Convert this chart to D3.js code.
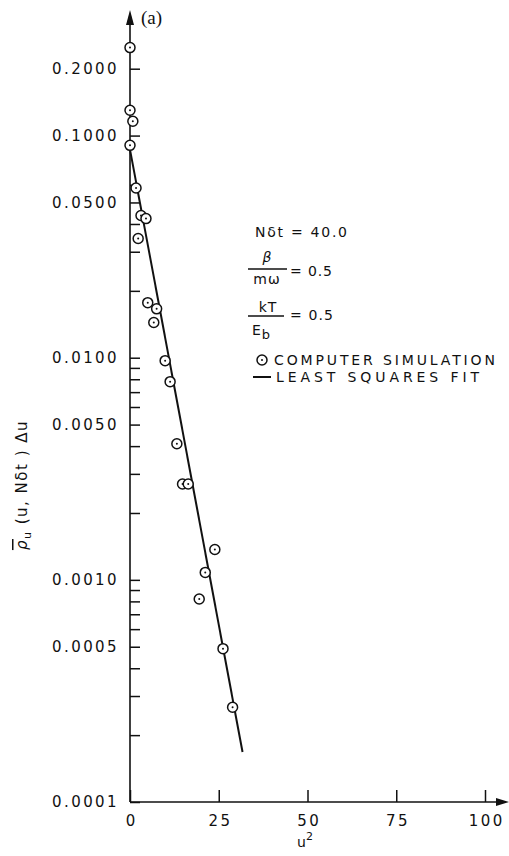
<!DOCTYPE html>
<html>
<head>
<meta charset="utf-8">
<script src="https://cdn.jsdelivr.net/npm/d3@7/dist/d3.min.js"></script>
<style>
  html, body { margin: 0; padding: 0; background: #fff; }
  svg { display: block; }
  .lbl { font-family: "DejaVu Sans", sans-serif; font-size: 14px; fill: #111; letter-spacing: 3px; }
  .tk { font-family: "DejaVu Sans", sans-serif; font-size: 15px; fill: #111; letter-spacing: 2.4px; }
</style>
</head>
<body>
<svg id="chart" width="509" height="856"></svg>
<script>
// Simulated distribution samples: squared displacement u^2 and normalised density
const u2 = [0, 0, 0.8, 0, 1.7, 3.1, 4.5, 2.3, 5.0, 7.5, 6.7, 9.9, 11.3, 13.2, 14.8, 16.4, 23.9, 21.2, 19.5, 26.2, 28.9];
const density = [0.249, 0.130, 0.116, 0.0904, 0.0581, 0.0437, 0.0423, 0.0344, 0.0177, 0.0166, 0.0144,
                 0.0097, 0.0078, 0.0041, 0.0027, 0.0027, 0.00137, 0.00108, 0.00082, 0.00049, 0.000267];

// Least squares fit (straight line on log axis)
const fitU2 = [0, 31.7];
const fitDensity = [0.0865, 0.000168];

// Axis ticks
const xTicks = [0, 25, 50, 75, 100];
const xTickLabels = ["0", "25", "50", "75", "100"];
const yMajorTicks = [0.2, 0.1, 0.05, 0.01, 0.005, 0.001, 0.0005, 0.0001];
const yTickLabels = ["0.2000", "0.1000", "0.0500", "0.0100", "0.0050", "0.0010", "0.0005", "0.0001"];
const yMinorTicks = [0.06, 0.04, 0.03, 0.02,
                     0.009, 0.008, 0.007, 0.006, 0.004, 0.003, 0.002,
                     0.0009, 0.0008, 0.0007, 0.0006, 0.0004, 0.0003, 0.0002];

const svg = d3.select("#chart");
const ink = "#111";

const x = d3.scaleLinear().domain([0, 100]).range([130, 485]);
const y = d3.scaleLog().domain([0.0001, 0.36]).range([802, 12]);

// y axis: ticks point into the plot
const labelOf = new Map(yMajorTicks.map((v, i) => [v, yTickLabels[i]]));
const yAxis = d3.axisLeft(y)
  .tickValues(yMajorTicks.concat(yMinorTicks))
  .tickSizeInner(-10).tickSizeOuter(0).tickPadding(11)
  .tickFormat(d => labelOf.get(d) || "");
const gy = svg.append("g").attr("transform", `translate(${x(0)},0)`).call(yAxis);
gy.select(".domain").remove();
gy.selectAll(".tick line").attr("stroke", ink).attr("stroke-width", 1.5);
gy.selectAll(".tick text").attr("class", "tk").attr("font-family", null).attr("font-size", null);

// x axis
const xAxis = d3.axisBottom(x)
  .tickValues(xTicks)
  .tickSizeInner(-12).tickSizeOuter(0).tickPadding(13)
  .tickFormat((d, i) => xTickLabels[i]);
const gx = svg.append("g").attr("transform", `translate(0,${y(0.0001)})`).call(xAxis);
gx.select(".domain").remove();
gx.selectAll(".tick line").attr("stroke", ink).attr("stroke-width", 1.5);
gx.selectAll(".tick text").attr("class", "tk").attr("font-family", null).attr("font-size", null).attr("dx", 1.2);

// axis lines with arrowheads
const x0 = x(0), yBot = y(0.0001), yTop = y(0.36), xEnd = 509;
svg.append("line").attr("x1", x0).attr("y1", yBot).attr("x2", x0).attr("y2", yTop + 6)
  .attr("stroke", ink).attr("stroke-width", 1.6);
svg.append("path").attr("d", `M${x0},${yTop - 2} L${x0 - 4},${yTop + 13} L${x0 + 4},${yTop + 13} Z`).attr("fill", ink);
svg.append("line").attr("x1", x0).attr("y1", yBot).attr("x2", xEnd - 6).attr("y2", yBot)
  .attr("stroke", ink).attr("stroke-width", 1.6);
svg.append("path").attr("d", `M${xEnd},${yBot} L${xEnd - 13},${yBot - 4} L${xEnd - 13},${yBot + 4} Z`).attr("fill", ink);

// fitted line
const line = d3.line().x(d => x(d[0])).y(d => y(d[1]));
svg.append("path")
  .datum(fitU2.map((v, i) => [v, fitDensity[i]]))
  .attr("d", line).attr("fill", "none").attr("stroke", ink).attr("stroke-width", 2);

// simulation points: circle with centre dot
const pts = svg.append("g").selectAll("g").data(u2.map((v, i) => [v, density[i]])).join("g")
  .attr("transform", d => `translate(${x(d[0])},${y(d[1])})`);
pts.append("circle").attr("r", 5).attr("fill", "#fff").attr("stroke", ink).attr("stroke-width", 1.5);
pts.append("circle").attr("r", 1).attr("fill", ink);

// panel tag
svg.append("text").attr("x", 141).attr("y", 24)
  .attr("font-family", "Liberation Serif, serif").attr("font-size", 19).attr("fill", ink).text("(a)");

// axis titles
svg.append("text").attr("class", "lbl").attr("x", 305).attr("y", 847).attr("text-anchor", "middle")
  .style("letter-spacing", "0px").attr("font-size", 15)
  .call(t => { t.append("tspan").text("u"); t.append("tspan").attr("dy", -7).attr("font-size", 11).text("2"); });

const yl = svg.append("text").attr("class", "lbl")
  .attr("transform", "translate(27,485) rotate(-90)").attr("text-anchor", "middle")
  .style("letter-spacing", "1.5px").style("font-size", "15px");
yl.append("tspan").attr("font-style", "italic").attr("text-decoration", "overline").text("\u03C1");
yl.append("tspan").attr("dy", 4).attr("font-size", 11).text("u");
yl.append("tspan").attr("dy", -4).text(" (u, N\u03B4t ) \u0394u");

// parameter block
const lg = svg.append("g");
lg.append("text").attr("class", "lbl").attr("x", 255).attr("y", 237).attr("textLength", 95).text("N\u03B4t = 40.0");

lg.append("text").attr("class", "lbl").attr("x", 267).attr("y", 262).attr("text-anchor", "middle")
  .style("letter-spacing", "0px").attr("font-style", "italic").attr("font-size", 17).text("\u03B2");
lg.append("line").attr("x1", 248).attr("x2", 287).attr("y1", 269).attr("y2", 269).attr("stroke", ink).attr("stroke-width", 1.3);
lg.append("text").attr("class", "lbl").attr("x", 267).attr("y", 284).attr("text-anchor", "middle")
  .style("letter-spacing", "1px").text("m\u03C9");
lg.append("text").attr("class", "lbl").attr("x", 290).attr("y", 276).attr("textLength", 45).text("= 0.5");

lg.append("text").attr("class", "lbl").attr("x", 268).attr("y", 312).attr("text-anchor", "middle")
  .style("letter-spacing", "1px").text("kT");
lg.append("line").attr("x1", 248).attr("x2", 284).attr("y1", 316).attr("y2", 316).attr("stroke", ink).attr("stroke-width", 1.3);
lg.append("text").attr("class", "lbl").attr("x", 252).attr("y", 335).style("letter-spacing", "1px")
  .call(t => { t.append("tspan").text("E"); t.append("tspan").attr("dy", 4).attr("font-size", 13).text("b"); });
lg.append("text").attr("class", "lbl").attr("x", 290).attr("y", 320).attr("textLength", 46).text("= 0.5");

lg.append("circle").attr("cx", 262).attr("cy", 360).attr("r", 5).attr("fill", "#fff").attr("stroke", ink).attr("stroke-width", 1.5);
lg.append("circle").attr("cx", 262).attr("cy", 360).attr("r", 1).attr("fill", ink);
lg.append("text").attr("class", "lbl").attr("x", 274).attr("y", 365).attr("textLength", 224).text("COMPUTER SIMULATION");
lg.append("line").attr("x1", 253).attr("x2", 271).attr("y1", 377).attr("y2", 377).attr("stroke", ink).attr("stroke-width", 2);
lg.append("text").attr("class", "lbl").attr("x", 276).attr("y", 382).attr("textLength", 206).text("LEAST SQUARES FIT");
</script>
</body>
</html>
